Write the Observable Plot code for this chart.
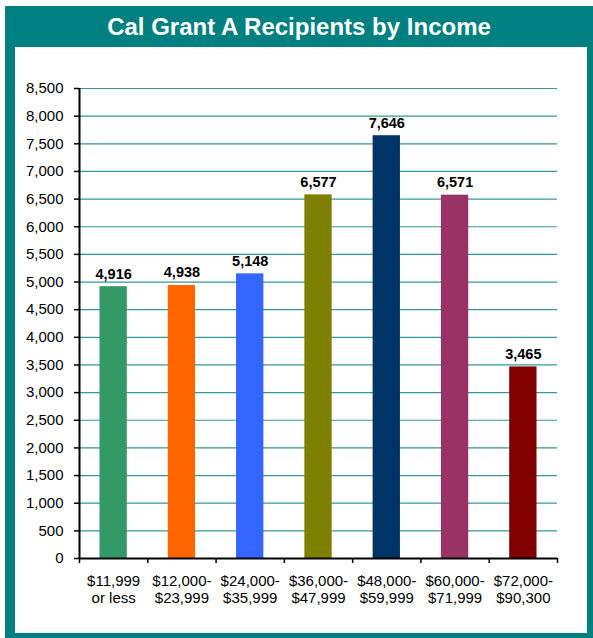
<!DOCTYPE html>
<html><head><meta charset="utf-8">
<script src="https://cdn.jsdelivr.net/npm/d3@7"></script>
<script src="https://cdn.jsdelivr.net/npm/@observablehq/plot@0.6"></script>
<style>
body{margin:0;background:#fff;font-family:"Liberation Sans",Arial,sans-serif;}
#outer{position:absolute;left:5px;top:6px;width:588px;height:632px;background:#008080;}
#title{position:absolute;left:0;top:0;width:588px;height:41px;line-height:42px;text-align:center;color:#fff;font-weight:bold;font-size:24px;}
#inner{position:absolute;left:10px;top:41px;width:572px;height:586px;background:#fff;}
#inner svg{display:block;}
</style></head><body>
<div id="outer"><div id="title">Cal Grant A Recipients by Income</div><div id="inner"></div></div>
<script>
const categories = ["$11,999\nor less", "$12,000-\n$23,999", "$24,000-\n$35,999", "$36,000-\n$47,999", "$48,000-\n$59,999", "$60,000-\n$71,999", "$72,000-\n$90,300"];
const recipients = [4916, 4938, 5148, 6577, 7646, 6571, 3465];
const barColors = ["#339966", "#FF6600", "#3366FF", "#808000", "#003366", "#993366", "#800000"];
const yTicks = d3.range(0, 8501, 500);
const gridTicks = yTicks.filter(d => d > 0);

const data = categories.map((c, i) => ({i, label: c, value: recipients[i], color: barColors[i]}));
const fmt = d3.format(",");

const chart = Plot.plot({
  width: 572,
  height: 586,
  marginLeft: 64,
  marginRight: 30,
  marginTop: 41,
  marginBottom: 75,
  style: {fontFamily: '"Liberation Sans", Arial, sans-serif', background: "white", color: "black"},
  x: {type: "linear", domain: [0, categories.length]},
  y: {domain: [0, 8500]},
  marks: [
    Plot.ruleY(gridTicks, {stroke: "#339999", strokeWidth: 1.2}),
    Plot.rectY(data, {x1: d => d.i + 0.3, x2: d => d.i + 0.7, y: "value", fill: "color"}),
    Plot.text(data, {x: d => d.i + 0.5, y: "value", text: d => fmt(d.value), dy: -8, lineAnchor: "bottom", fontWeight: "bold", fontSize: 14.5, fill: "black"}),
    Plot.axisY({ticks: yTicks, tickFormat: fmt, tickSize: 5, tickPadding: 11, fontSize: 15, label: null, stroke: "black", strokeWidth: 1.5}),
    Plot.axisX({ticks: d3.range(0, categories.length + 1), tickFormat: () => "", tickSize: 5, label: null, strokeWidth: 1.5}),
    Plot.axisX({ticks: d3.range(0, categories.length).map(i => i + 0.5), tickFormat: (d) => categories[Math.floor(d)], tickSize: 0, tickPadding: 15, fontSize: 15, lineHeight: 1.15, label: null}),
    Plot.ruleX([0], {stroke: "black", strokeWidth: 2}),
    Plot.ruleY([0], {stroke: "black", strokeWidth: 2})
  ]
});
document.getElementById("inner").appendChild(chart);
</script>
</body></html>
